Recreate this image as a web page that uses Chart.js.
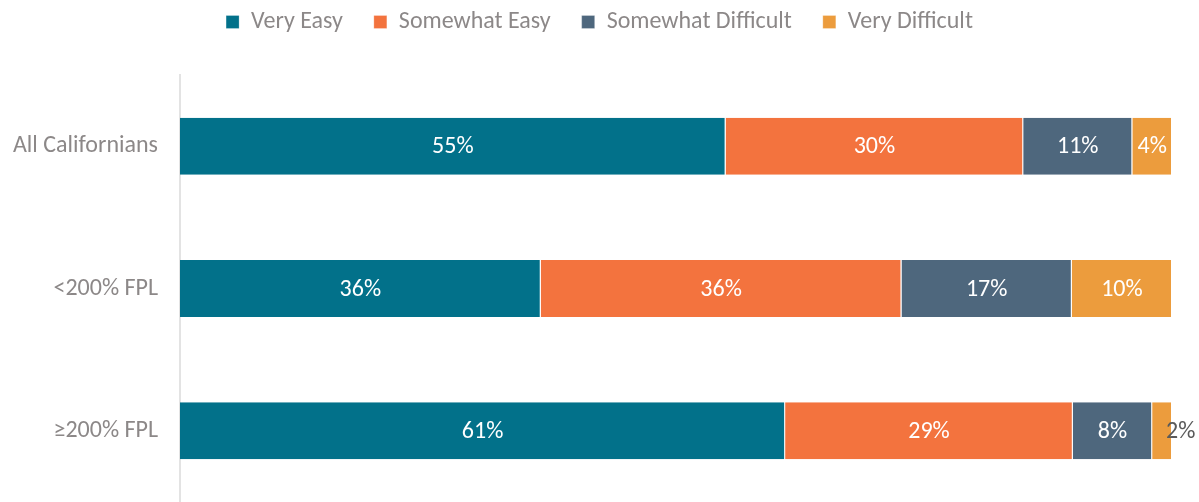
<!DOCTYPE html>
<html>
<head>
<meta charset="utf-8">
<script src="https://cdn.jsdelivr.net/npm/chart.js@4"></script>
<style>
  html, body { margin: 0; padding: 0; background: #fff; }
  #wrap { width: 1199px; height: 502px; }
</style>
</head>
<body>
<div id="wrap"><canvas id="chart" width="1199" height="502"></canvas></div>
<script>
const categories = ["All Californians", "<200% FPL", "\u2265200% FPL"];
const seriesNames = ["Very Easy", "Somewhat Easy", "Somewhat Difficult", "Very Difficult"];
const veryEasy = [55, 36, 61];
const somewhatEasy = [30, 36, 29];
const somewhatDifficult = [11, 17, 8];
const veryDifficult = [4, 10, 2];
const colors = ["#02718a", "#f3733e", "#4e677d", "#ec9c3d"];

const FONT = "Carlito, Calibri, Lato, sans-serif";
const GRAY = "#8c8888";

const raw = [veryEasy, somewhatEasy, somewhatDifficult, veryDifficult];
// 100% stacked: each row is scaled by its own total
const totals = categories.map((_, i) => raw.reduce((s, arr) => s + arr[i], 0));

const datasets = raw.map((arr, k) => ({
  label: seriesNames[k],
  data: arr.map((v, i) => v / totals[i] * 100),
  shown: arr,
  backgroundColor: colors[k],
  borderColor: "#ffffff",
  borderWidth: { right: 1, left: 0, top: 0, bottom: 0 },
  borderSkipped: false,
  barPercentage: 0.4,
  categoryPercentage: 1
}));

// more space between the legend and the bars, and center the legend on the canvas
const legendGap = {
  id: "legendGap",
  beforeInit(chart) {
    const fit = chart.legend.fit;
    chart.legend.fit = function () {
      fit.call(this);
      this.height += 31;
    };
  },
  afterLayout(chart) {
    chart.legend.left = 0;
    chart.legend.right = chart.width;
  }
};

// percentage labels inside each segment
const segLabels = {
  id: "segLabels",
  afterDatasetsDraw(chart) {
    const ctx = chart.ctx;
    ctx.save();
    ctx.font = "24px " + FONT;
    ctx.textBaseline = "middle";
    chart.data.datasets.forEach((ds, k) => {
      chart.getDatasetMeta(k).data.forEach((bar, i) => {
        const text = ds.shown[i] + "%";
        const w = bar.x - bar.base;
        const tw = ctx.measureText(text).width;
        const cx = bar.base + w / 2;
        if (tw + 4 > w) {
          // too narrow: dark text spilling to the right
          ctx.fillStyle = "#5a5a5a";
          ctx.textAlign = "left";
          ctx.fillText(text, cx + 4, bar.y + 1);
        } else {
          ctx.fillStyle = "#ffffff";
          ctx.textAlign = "center";
          ctx.fillText(text, cx, bar.y + 1);
        }
      });
    });
    ctx.restore();
  }
};

new Chart(document.getElementById("chart"), {
  type: "bar",
  data: { labels: categories, datasets: datasets },
  options: {
    indexAxis: "y",
    responsive: false,
    animation: false,
    layout: { padding: { left: 0, right: 27, top: -21, bottom: -2 } },
    plugins: {
      legend: {
        position: "top",
        labels: {
          boxWidth: 13,
          boxHeight: 13,
          padding: 31,
          color: GRAY,
          font: { family: FONT, size: 24 }
        }
      },
      tooltip: { enabled: false }
    },
    scales: {
      x: {
        stacked: true,
        min: 0,
        max: 100,
        display: false
      },
      y: {
        stacked: true,
        grid: { display: false, drawTicks: false },
        border: { display: true, color: "#e3e3e3", width: 2 },
        ticks: {
          color: GRAY,
          padding: 22,
          font: { family: FONT, size: 24 }
        },
        afterFit(scale) {
          scale.width = 180;
          // labels sit mid-category, no extra room needed above/below
          scale.paddingTop = 0;
          scale.paddingBottom = 0;
        }
      }
    }
  },
  plugins: [legendGap, segLabels]
});
</script>
</body>
</html>
